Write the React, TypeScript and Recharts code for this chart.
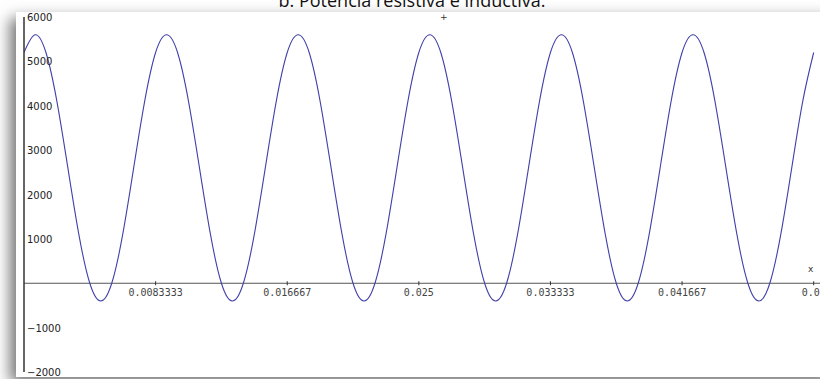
import { LineChart, Line, XAxis, YAxis, ReferenceLine } from 'recharts';

// time (s), one sample every 1/12 of a 120 Hz period
const times = [
  0, 0.000694, 0.001389, 0.002083, 0.002778, 0.003472, 0.004167, 0.004861, 0.005556, 0.00625, 0.006944, 0.007639, 0.008333,
  0.009028, 0.009722, 0.010417, 0.011111, 0.011806, 0.0125, 0.013194, 0.013889, 0.014583, 0.015278, 0.015972, 0.016667,
  0.017361, 0.018056, 0.01875, 0.019444, 0.020139, 0.020833, 0.021528, 0.022222, 0.022917, 0.023611, 0.024306, 0.025,
  0.025694, 0.026389, 0.027083, 0.027778, 0.028472, 0.029167, 0.029861, 0.030556, 0.03125, 0.031944, 0.032639, 0.033333,
  0.034028, 0.034722, 0.035417, 0.036111, 0.036806, 0.0375, 0.038194, 0.038889, 0.039583, 0.040278, 0.040972, 0.041667,
  0.042361, 0.043056, 0.04375, 0.044444, 0.045139, 0.045833, 0.046528, 0.047222, 0.047917, 0.048611, 0.049306, 0.05,
];

// instantaneous power
const power = [
  5200, 5600, 5200, 4100, 2600, 1100, 0, -400, 0, 1100, 2600, 4100,
  5200, 5600, 5200, 4100, 2600, 1100, 0, -400, 0, 1100, 2600, 4100,
  5200, 5600, 5200, 4100, 2600, 1100, 0, -400, 0, 1100, 2600, 4100,
  5200, 5600, 5200, 4100, 2600, 1100, 0, -400, 0, 1100, 2600, 4100,
  5200, 5600, 5200, 4100, 2600, 1100, 0, -400, 0, 1100, 2600, 4100,
  5200, 5600, 5200, 4100, 2600, 1100, 0, -400, 0, 1100, 2600, 4100,
  5200,
];

const xTicks = [0.0083333, 0.016667, 0.025, 0.033333, 0.041667, 0.05];
const xTickLabels = ['0.0083333', '0.016667', '0.025', '0.033333', '0.041667', '0.05'];
const yTicks = [-2000, -1000, 0, 1000, 2000, 3000, 4000, 5000, 6000];
const yTickLabels = ['\u22122000', '\u22121000', '', '1000', '2000', '3000', '4000', '5000', '6000'];

const data = times.map((t, i) => ({ t, p: power[i] }));

const W = 820;
const H = 379;
const margin = { top: 17, right: 0, bottom: 6, left: 24 };
const plotBottom = H - margin.bottom - 1;
const zeroY = margin.top + ((plotBottom - margin.top) * 6000) / 8000;

function XTick({ x, payload }: any) {
  const i = xTicks.indexOf(payload.value);
  return (
    <g>
      <line x1={x} x2={x} y1={zeroY - 2} y2={zeroY + 2} stroke="#333" strokeWidth={1} />
      <text x={x} y={zeroY + 13} textAnchor="middle" fontFamily="DejaVu Sans Mono" fontSize={10} fill="#444">
        {xTickLabels[i]}
      </text>
    </g>
  );
}

function YTick({ y, payload }: any) {
  const i = yTicks.indexOf(payload.value);
  return (
    <text x={margin.left + 3} y={y + 4} textAnchor="start" fontFamily="DejaVu Sans" fontSize={10} fill="#222">
      {yTickLabels[i]}
    </text>
  );
}

export default function App() {
  return (
    <div style={{ position: 'absolute', left: 0, top: 0, width: W, height: H, overflow: 'hidden', background: '#fff' }}>
      <div
        style={{
          position: 'absolute',
          left: 16,
          top: 12,
          width: 820,
          height: 365,
          background: '#fff',
          boxShadow: '-6px 6px 14px rgba(0,0,0,0.55)',
        }}
      />
      <div
        style={{
          position: 'absolute',
          left: 162,
          width: 500,
          top: -11,
          textAlign: 'center',
          fontFamily: 'Open Sans',
          fontSize: 18,
          lineHeight: '22px',
          color: '#111',
        }}
      >
        b. Potencia resistiva e inductiva.
      </div>
      <div style={{ position: 'absolute', left: 0, top: 0 }}>
        <LineChart width={W} height={H} data={data} margin={margin}>
          <XAxis
            dataKey="t"
            type="number"
            domain={[0, 0.0504]}
            ticks={xTicks}
            tick={<XTick />}
            axisLine={false}
            tickLine={false}
            height={1}
            interval={0}
            allowDataOverflow
          />
          <YAxis
            type="number"
            domain={[-2000, 6000]}
            ticks={yTicks}
            tick={<YTick />}
            interval={0}
            mirror
            width={1}
            tickLine={false}
            axisLine={{ stroke: '#333', strokeWidth: 1.5 }}
            allowDataOverflow
          />
          <ReferenceLine y={0} stroke="#555" strokeWidth={1} />
          <Line
            type="natural"
            dataKey="p"
            stroke="#4040aa"
            strokeWidth={1.1}
            dot={false}
            isAnimationActive={false}
          />
        </LineChart>
      </div>
      <span style={{ position: 'absolute', left: 440, top: 12, fontFamily: 'DejaVu Sans', fontSize: 9, color: '#333' }}>+</span>
      <span style={{ position: 'absolute', left: 808, top: 264, fontFamily: 'DejaVu Sans', fontSize: 9, color: '#333' }}>x</span>
    </div>
  );
}
